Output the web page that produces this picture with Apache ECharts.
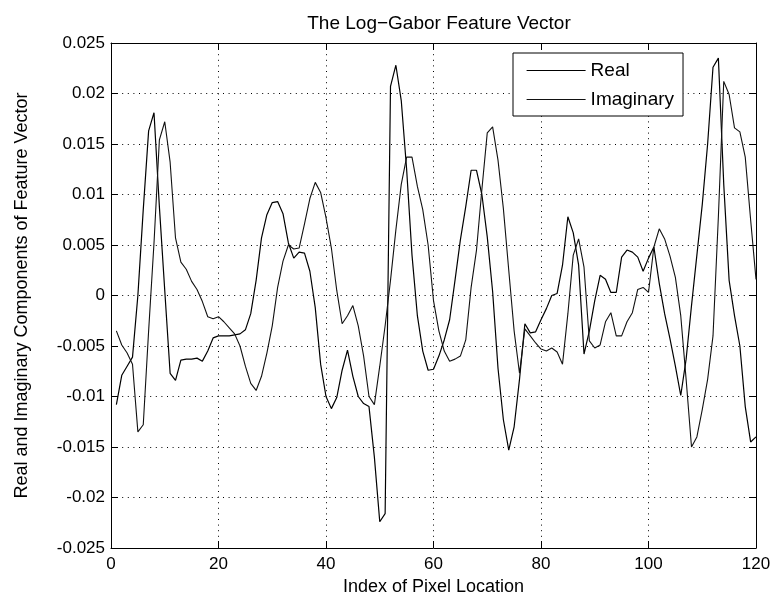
<!DOCTYPE html>
<html>
<head>
<meta charset="utf-8">
<script src="https://cdn.jsdelivr.net/npm/echarts@6/dist/echarts.min.js"></script>
<style>
  html, body { margin: 0; padding: 0; background: #ffffff; }
  #chart { width: 778px; height: 603px; }
</style>
</head>
<body>
<div id="chart"></div>
<script>
// Pixel index along the sampled line
const pixelIndex = [
  1, 2, 3, 4, 5, 6, 7, 8, 9, 10, 11, 12, 13, 14, 15, 16, 17, 18, 19, 20,
  21, 22, 23, 24, 25, 26, 27, 28, 29, 30, 31, 32, 33, 34, 35, 36, 37, 38, 39, 40,
  41, 42, 43, 44, 45, 46, 47, 48, 49, 50, 51, 52, 53, 54, 55, 56, 57, 58, 59, 60,
  61, 62, 63, 64, 65, 66, 67, 68, 69, 70, 71, 72, 73, 74, 75, 76, 77, 78, 79, 80,
  81, 82, 83, 84, 85, 86, 87, 88, 89, 90, 91, 92, 93, 94, 95, 96, 97, 98, 99, 100,
  101, 102, 103, 104, 105, 106, 107, 108, 109, 110, 111, 112, 113, 114, 115, 116, 117, 118, 119, 120
];

// Real part of the log-Gabor filter response
const realPart = [
  -0.0108, -0.0079, -0.0070, -0.0061, 0.0000, 0.0085, 0.0163, 0.0181, 0.0088, 0.0005,
  -0.0077, -0.0084, -0.0064, -0.0063, -0.0063, -0.0062, -0.0065, -0.0055, -0.0042, -0.0040,
  -0.0040, -0.0040, -0.0039, -0.0038, -0.0034, -0.0018, 0.0015, 0.0057, 0.0080, 0.0092,
  0.0093, 0.0081, 0.0052, 0.0037, 0.0043, 0.0042, 0.0024, -0.0012, -0.0068, -0.0100,
  -0.0112, -0.0101, -0.0074, -0.0054, -0.0080, -0.0100, -0.0107, -0.0110, -0.0160, -0.0224,
  -0.0216, 0.0207, 0.0228, 0.0193, 0.0125, 0.0040, -0.0020, -0.0055, -0.0074, -0.0073,
  -0.0060, -0.0044, -0.0024, 0.0015, 0.0055, 0.0088, 0.0124, 0.0124, 0.0100, 0.0058,
  0.0004, -0.0072, -0.0123, -0.0153, -0.0130, -0.0083, -0.0028, -0.0037, -0.0036, -0.0024,
  -0.0013, 0.0000, 0.0002, 0.0030, 0.0078, 0.0062, 0.0030, -0.0058, -0.0035, -0.0005,
  0.0020, 0.0016, 0.0003, 0.0003, 0.0038, 0.0045, 0.0043, 0.0038, 0.0024, 0.0037,
  0.0048, 0.0012, -0.0018, -0.0043, -0.0070, -0.0099, -0.0063, -0.0010, 0.0040, 0.0090,
  0.0150, 0.0226, 0.0235, 0.0110, 0.0015, -0.0020, -0.0050, -0.0110, -0.0145, -0.0140
];

// Imaginary part of the log-Gabor filter response
const imagPart = [
  -0.0035, -0.0049, -0.0057, -0.0068, -0.0135, -0.0128, -0.0035, 0.0052, 0.0154, 0.0172,
  0.0132, 0.0057, 0.0033, 0.0026, 0.0014, 0.0006, -0.0006, -0.0021, -0.0023, -0.0021,
  -0.0026, -0.0032, -0.0038, -0.0050, -0.0070, -0.0087, -0.0094, -0.0080, -0.0057, -0.0030,
  0.0008, 0.0034, 0.0050, 0.0046, 0.0047, 0.0071, 0.0096, 0.0112, 0.0102, 0.0077,
  0.0047, 0.0005, -0.0028, -0.0020, -0.0010, -0.0030, -0.0060, -0.0100, -0.0108, -0.0070,
  -0.0030, 0.0015, 0.0065, 0.0110, 0.0137, 0.0137, 0.0108, 0.0085, 0.0050, -0.0005,
  -0.0035, -0.0055, -0.0065, -0.0063, -0.0060, -0.0044, 0.0008, 0.0045, 0.0105, 0.0161,
  0.0167, 0.0134, 0.0086, 0.0025, -0.0035, -0.0077, -0.0033, -0.0040, -0.0047, -0.0053,
  -0.0055, -0.0052, -0.0056, -0.0068, -0.0018, 0.0040, 0.0056, 0.0028, -0.0045, -0.0052,
  -0.0049, -0.0026, -0.0017, -0.0040, -0.0040, -0.0026, -0.0017, 0.0006, 0.0008, 0.0003,
  0.0048, 0.0066, 0.0056, 0.0039, 0.0018, -0.0020, -0.0083, -0.0150, -0.0140, -0.0113,
  -0.0083, -0.0040, 0.0078, 0.0212, 0.0199, 0.0166, 0.0162, 0.0137, 0.0075, 0.0016
];

// Tick labels
const xTickLabels = ['0', '20', '40', '60', '80', '100', '120'];
const yTickLabels = ['-0.025', '-0.02', '-0.015', '-0.01', '-0.005', '0',
                     '0.005', '0.01', '0.015', '0.02', '0.025'];

const X_MIN = 0, X_MAX = 120, X_STEP = 20;
const Y_MIN = -0.025, Y_MAX = 0.025, Y_STEP = 0.005;

const FONT = '"Liberation Sans", Arial, Helvetica, sans-serif';

function pickLabel(labels, min, step) {
  return function (v) {
    const i = Math.round((v - min) / step);
    return labels[i] !== undefined ? labels[i] : '';
  };
}

const gridDots = { color: '#000', width: 1, type: [1, 4.6] };

const chart = echarts.init(document.getElementById('chart'), null, { renderer: 'canvas' });

chart.setOption({
  animation: false,
  backgroundColor: '#ffffff',
  title: {
    text: 'The Log\u2212Gabor Feature Vector',
    left: 434,
    top: 9,
    textAlign: 'center',
    textStyle: { fontFamily: FONT, fontSize: 19, fontWeight: 'normal', color: '#000' }
  },
  legend: {
    data: ['Real', 'Imaginary'],
    orient: 'vertical',
    left: 513,
    top: 53,
    padding: [8, 9, 7, 13],
    itemWidth: 59,
    itemHeight: 14,
    itemGap: 10,
    borderColor: '#000',
    borderWidth: 1,
    backgroundColor: '#ffffff',
    itemStyle: { opacity: 0 },
    lineStyle: { width: 1.2 },
    textStyle: { fontFamily: FONT, fontSize: 19, color: '#000' }
  },
  grid: { left: 111, right: 22, top: 43, bottom: 55, containLabel: false },
  xAxis: [
    {
      type: 'value',
      min: X_MIN, max: X_MAX, interval: X_STEP,
      name: 'Index of Pixel Location',
      nameLocation: 'middle',
      nameGap: 27,
      nameTextStyle: { fontFamily: FONT, fontSize: 18, color: '#000' },
      axisLine: { show: true, onZero: false, lineStyle: { color: '#000', width: 1 } },
      axisTick: { show: true, inside: true, length: 7, lineStyle: { color: '#000' } },
      axisLabel: {
        fontFamily: FONT, fontSize: 17, color: '#000', margin: 8,
        formatter: pickLabel(xTickLabels, X_MIN, X_STEP)
      },
      splitLine: { show: true, lineStyle: gridDots }
    },
    {
      type: 'value', position: 'top',
      min: X_MIN, max: X_MAX, interval: X_STEP,
      axisLine: { show: true, onZero: false, lineStyle: { color: '#000', width: 1 } },
      axisTick: { show: true, inside: true, length: 7, lineStyle: { color: '#000' } },
      axisLabel: { show: false },
      splitLine: { show: false }
    }
  ],
  yAxis: [
    {
      type: 'value',
      min: Y_MIN, max: Y_MAX, interval: Y_STEP,
      name: 'Real and Imaginary Components of Feature Vector',
      nameLocation: 'middle',
      nameRotate: 90,
      nameGap: 80,
      nameTextStyle: { fontFamily: FONT, fontSize: 18, color: '#000' },
      axisLine: { show: true, onZero: false, lineStyle: { color: '#000', width: 1 } },
      axisTick: { show: true, inside: true, length: 7, lineStyle: { color: '#000' } },
      axisLabel: {
        fontFamily: FONT, fontSize: 17, color: '#000', margin: 6,
        formatter: pickLabel(yTickLabels, Y_MIN, Y_STEP)
      },
      splitLine: { show: true, lineStyle: gridDots }
    },
    {
      type: 'value', position: 'right',
      min: Y_MIN, max: Y_MAX, interval: Y_STEP,
      axisLine: { show: true, onZero: false, lineStyle: { color: '#000', width: 1 } },
      axisTick: { show: true, inside: true, length: 7, lineStyle: { color: '#000' } },
      axisLabel: { show: false },
      splitLine: { show: false }
    }
  ],
  series: [
    {
      name: 'Real',
      type: 'line',
      xAxisIndex: 0, yAxisIndex: 0,
      symbol: 'none',
      lineStyle: { color: '#000', width: 1.2 },
      itemStyle: { color: '#000' },
      data: pixelIndex.map((x, i) => [x, realPart[i]])
    },
    {
      name: 'Imaginary',
      type: 'line',
      xAxisIndex: 0, yAxisIndex: 0,
      symbol: 'none',
      lineStyle: { color: '#111', width: 1.1 },
      itemStyle: { color: '#111' },
      data: pixelIndex.map((x, i) => [x, imagPart[i]])
    }
  ]
});
</script>
</body>
</html>
